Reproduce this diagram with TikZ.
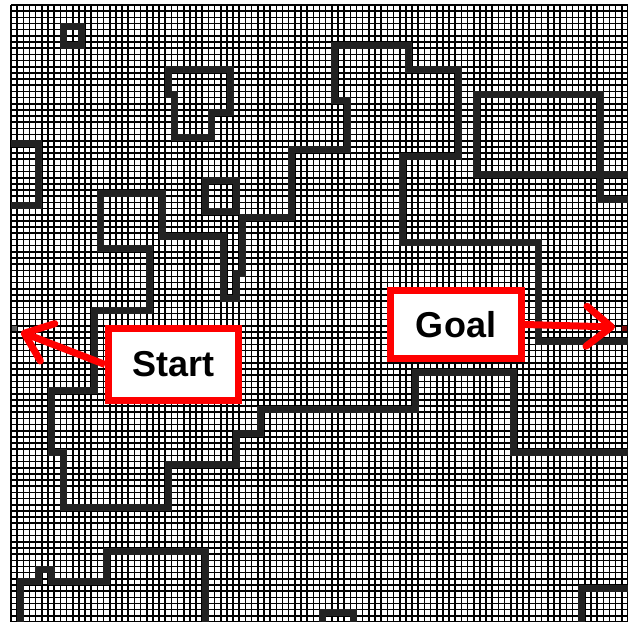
\documentclass[tikz,border=0pt]{standalone}
\usepackage{fontspec}
\setmainfont{Liberation Sans}
\usetikzlibrary{arrows.meta}

\definecolor{wallgray}{RGB}{34,34,34}
\definecolor{startgray}{RGB}{90,90,90}
\definecolor{goalred}{RGB}{120,10,10}

\tikzset{
    gridline/.style={line width=1.6pt, black},
    wall/.style={line width=7pt, wallgray, line cap=rect, line join=miter},
    tagbox/.style={draw=red, line width=7pt, fill=white, inner sep=0pt,
        font=\fontsize{36}{42}\selectfont\bfseries},
    tagarrow/.style={red, line width=7pt,
        -{Straight Barb[length=25pt, width=40pt, round]}}
}

\begin{document}
\begin{tikzpicture}[x=1pt, y=-1pt]
        \useasboundingbox (0,0) rectangle (628,621);
        \fill[white] (0,0) rectangle (628,621);

        % 100 x 100 cells, one unit = one cell, (0,0) = centre of top left cell
        \begin{scope}[shift={(14.085,8.085)}, x=6.17pt, y=-6.17pt]
        \foreach \i in {0,...,100} {
            \draw[gridline] ({\i-0.5},-0.5) -- ({\i-0.5},99.5);
            \draw[gridline] (-0.5,{\i-0.5}) -- (99.5,{\i-0.5});
        }

        \draw[wall] (8,3) rectangle (11,6);
        \draw[wall] (0,22) -- (4,22) -- (4,32) -- (0,32);
        \draw[wall] (25,10) -- (35,10) -- (35,17) -- (32,17) -- (32,21) -- (26,21)
            -- (26,14) -- (25,14) -- cycle;
        \draw[wall] (31,28) rectangle (36,33);
        \draw[wall] (99,27) -- (75,27) -- (75,14) -- (95,14) -- (95,31) -- (99,31);

        \draw[wall] (99,54) -- (85,54) -- (85,38) -- (63,38) -- (63,24) -- (72,24)
            -- (72,10) -- (64,10) -- (64,6) -- (52,6) -- (52,15) -- (54,15)
            -- (54,23) -- (45,23) -- (45,34) -- (37,34) -- (37,43) -- (36,43)
            -- (36,47) -- (34,47) -- (34,37) -- (24,37) -- (24,30) -- (14,30)
            -- (14,39) -- (22,39) -- (22,49) -- (13,49) -- (13,62) -- (6,62)
            -- (6,72) -- (8,72) -- (8,81) -- (25,81) -- (25,74) -- (36,74)
            -- (36,69) -- (40,69) -- (40,65) -- (65,65) -- (65,59) -- (81,59)
            -- (81,72) -- (99,72);

        \draw[wall] (1,99) -- (1,93) -- (4,93) -- (4,91) -- (6,91) -- (6,93)
            -- (15,93) -- (15,88) -- (31,88) -- (31,99);
        \draw[wall] (50,99) -- (50,98) -- (55,98) -- (55,99);
        \draw[wall] (92,99) -- (92,94) -- (99,94);

        \fill[startgray] (-0.4,51.6) rectangle (0.4,52.4);
        \fill[goalred] (98.6,51.6) rectangle (99.4,52.4);
        \end{scope}

        \node[tagbox, minimum width=130pt, minimum height=72pt] (start) at (173.5,364.5) {Start};
        \node[tagbox, minimum width=131pt, minimum height=68pt] (goal) at (456,324.5) {Goal};
        \coordinate (starttip) at (21,332);
        \coordinate (goaltip) at (615,327);

        \draw[tagarrow] (start.west) -- (starttip);
        \draw[tagarrow] (goal.east) -- (goaltip);
\end{tikzpicture}
\end{document}
